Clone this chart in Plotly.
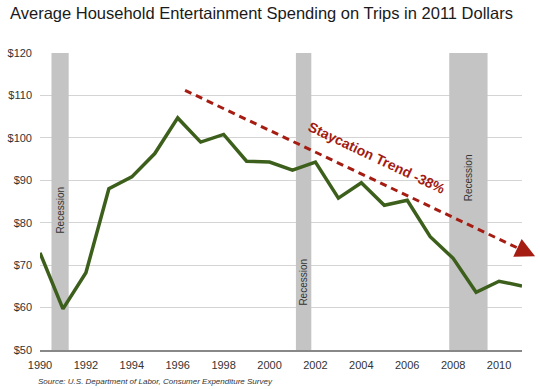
import plotly.graph_objects as go
import math

years = list(range(1990, 2012))
spending = [72.9, 59.7, 68.2, 88.0, 90.8, 96.3, 104.7, 99.0, 100.8, 94.5, 94.3, 92.4,
            94.3, 85.8, 89.4, 84.1, 85.3, 76.7, 71.6, 63.6, 66.2, 65.1]

recession_starts = [1990.5, 2001.15, 2007.83]
recession_ends = [1991.25, 2001.82, 2009.5]
recession_label_x = [1990.88, 2001.48, 2008.65]
recession_label_y = [82.9, 66.0, 90.5]

trend_start = (1996.32, 111.2)
trend_end = (2011.57, 72.1)
trend_label = "Staycation Trend -38%"
trend_label_pos = (2004.7, 95.3)

x_range = [1990, 2011]
y_range = [50, 120]
y_ticks = [50, 60, 70, 80, 90, 100, 110, 120]
y_ticklabels = ["$" + str(v) for v in y_ticks]
x_ticks = list(range(1990, 2011, 2))

W, H = 540, 389
ml, mr, mt, mb = 40, 18, 53, 39
pw = W - ml - mr
ph = H - mt - mb

def xp(x):
    return (x - x_range[0]) / (x_range[1] - x_range[0])

def yp(y):
    return (y - y_range[0]) / (y_range[1] - y_range[0])

fig = go.Figure()
fig.add_trace(go.Scatter(x=years, y=spending, mode="lines",
                         line=dict(color="#3d5f1c", width=3.5), hoverinfo="skip"))

shapes = []
annotations = []
for s, e in zip(recession_starts, recession_ends):
    shapes.append(dict(type="rect", xref="x", yref="y", x0=s, x1=e, y0=y_range[0], y1=y_range[1],
                       fillcolor="#c4c4c4", line=dict(width=0), layer="between"))
for lx, ly in zip(recession_label_x, recession_label_y):
    annotations.append(dict(x=lx, y=ly, xref="x", yref="y", text="Recession", showarrow=False,
                            textangle=-90, font=dict(size=10, color="#333333")))

# trend line (paper coords computed from data values so it may extend past the axis)
x0p, y0p = xp(trend_start[0]), yp(trend_start[1])
x1p, y1p = xp(trend_end[0]), yp(trend_end[1])
dxpx = (x1p - x0p) * pw
dypx = (y1p - y0p) * ph
L = math.hypot(dxpx, dypx)
ux, uy = dxpx / L, dypx / L
back = 8
shapes.append(dict(type="line", xref="paper", yref="paper", x0=x0p, y0=y0p,
                   x1=x1p - ux * back / pw, y1=y1p - uy * back / ph,
                   line=dict(color="#a51c12", width=3, dash="7px,5px")))
annotations.append(dict(x=x1p, y=y1p, xref="paper", yref="paper", text="", showarrow=True,
                        ax=-ux * 12, ay=uy * 12, axref="pixel", ayref="pixel",
                        arrowhead=2, arrowsize=1.3, arrowwidth=3, arrowcolor="#a51c12"))
angle = math.degrees(math.atan2(-dypx, dxpx))
annotations.append(dict(x=trend_label_pos[0], y=trend_label_pos[1], xref="x", yref="y",
                        text="<b>" + trend_label + "</b>", showarrow=False, textangle=angle,
                        font=dict(size=14, color="#a31b10")))

annotations.append(dict(x=(36 - ml) / pw, y=-(381 - (H - mb)) / ph, xref="paper", yref="paper",
                        text="<i>Source: U.S. Department of Labor, Consumer Expenditure Survey</i>",
                        showarrow=False, xanchor="left", yanchor="middle",
                        font=dict(size=8, color="#333333")))

fig.update_layout(
    width=W, height=H,
    margin=dict(l=ml, r=mr, t=mt, b=mb, autoexpand=False),
    paper_bgcolor="white", plot_bgcolor="white",
    font=dict(family="Liberation Sans, Arial, sans-serif", color="#333333"),
    title=dict(text="Average Household Entertainment Spending on Trips in 2011 Dollars",
               x=10 / W, xanchor="left", y=1 - 13 / H, yanchor="middle",
               font=dict(size=16.5, color="#1a1a1a")),
    showlegend=False,
    shapes=shapes,
    annotations=annotations,
    xaxis=dict(range=x_range, tickvals=x_ticks, showgrid=False, zeroline=False,
               showline=True, linecolor="#888888", linewidth=1.5, automargin=False,
               tickfont=dict(size=11, color="#333333"), ticks="", ticklabelstandoff=4),
    yaxis=dict(range=y_range, tickvals=y_ticks, ticktext=y_ticklabels, showgrid=True,
               gridcolor="#d4d4d4", gridwidth=1, zeroline=False, showline=False, automargin=False,
               tickfont=dict(size=11, color="#333333"), ticks="", ticklabelstandoff=7),
)

fig.write_html("out.html", config={"displayModeBar": False},
               post_script="document.body.style.margin='0';document.body.style.padding='0';")
